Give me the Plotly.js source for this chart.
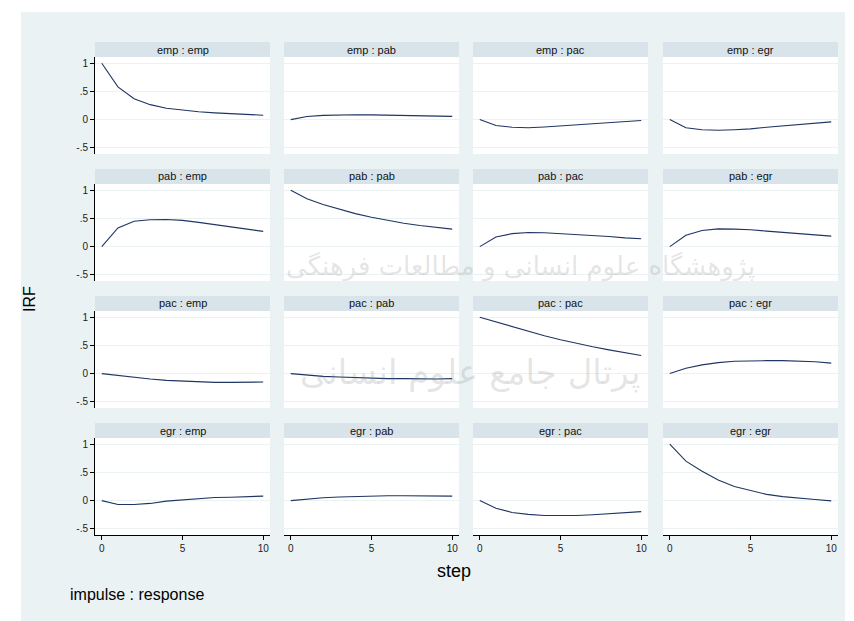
<!DOCTYPE html>
<html>
<head>
<meta charset="utf-8">
<script src="https://cdn.plot.ly/plotly-3.0.1.min.js"></script>
<style>html,body{margin:0;padding:0;background:#fff;}#chart{width:854px;height:621px;}</style>
</head>
<body>
<div id="chart"></div>
<script>
// ---- data ----
const steps = [0, 1, 2, 3, 4, 5, 6, 7, 8, 9, 10];
const impulses = ['emp', 'pab', 'pac', 'egr'];
const responses = ['emp', 'pab', 'pac', 'egr'];

const emp_emp = [1.00, 0.58, 0.37, 0.265, 0.20, 0.165, 0.14, 0.12, 0.105, 0.09, 0.077];
const emp_pab = [0.00, 0.055, 0.075, 0.083, 0.085, 0.083, 0.078, 0.073, 0.068, 0.062, 0.057];
const emp_pac = [0.00, -0.105, -0.135, -0.145, -0.13, -0.11, -0.095, -0.07, -0.055, -0.035, -0.015];
const emp_egr = [0.00, -0.145, -0.18, -0.19, -0.18, -0.165, -0.135, -0.11, -0.09, -0.065, -0.04];

const pab_emp = [0.00, 0.33, 0.45, 0.475, 0.48, 0.465, 0.43, 0.39, 0.35, 0.315, 0.27];
const pab_pab = [1.00, 0.85, 0.745, 0.66, 0.585, 0.52, 0.465, 0.415, 0.375, 0.34, 0.31];
const pab_pac = [0.00, 0.17, 0.23, 0.25, 0.245, 0.23, 0.215, 0.195, 0.18, 0.155, 0.14];
const pab_egr = [0.00, 0.20, 0.285, 0.315, 0.31, 0.30, 0.275, 0.25, 0.23, 0.21, 0.185];

const pac_emp = [0.00, -0.035, -0.065, -0.095, -0.12, -0.135, -0.15, -0.155, -0.155, -0.155, -0.15];
const pac_pab = [0.00, -0.03, -0.05, -0.06, -0.07, -0.085, -0.09, -0.09, -0.095, -0.095, -0.09];
const pac_pac = [1.00, 0.915, 0.83, 0.75, 0.67, 0.60, 0.535, 0.475, 0.42, 0.37, 0.32];
const pac_egr = [0.00, 0.095, 0.155, 0.195, 0.22, 0.23, 0.23, 0.23, 0.22, 0.21, 0.185];

const egr_emp = [0.00, -0.07, -0.07, -0.05, -0.01, 0.01, 0.035, 0.055, 0.06, 0.07, 0.08];
const egr_pab = [0.00, 0.03, 0.05, 0.065, 0.075, 0.08, 0.085, 0.085, 0.085, 0.085, 0.08];
const egr_pac = [0.00, -0.135, -0.21, -0.245, -0.265, -0.27, -0.265, -0.25, -0.23, -0.21, -0.195];
const egr_egr = [1.00, 0.70, 0.52, 0.365, 0.25, 0.175, 0.11, 0.07, 0.04, 0.02, -0.005];

const irf = [
  [emp_emp, emp_pab, emp_pac, emp_egr],
  [pab_emp, pab_pab, pab_pac, pab_egr],
  [pac_emp, pac_pab, pac_pac, pac_egr],
  [egr_emp, egr_pab, egr_pac, egr_egr]
];

const yTickVals = [-0.5, 0, 0.5, 1];
const yTickText = ['-.5', '0', '.5', '1'];
const xTickVals = [0, 5, 10];
const xTickText = ['0', '5', '10'];

// ---- layout geometry (pixels) ----
const W = 854, H = 621;
const px = x => x / W;
const py = y => 1 - y / H;
const colX = [95, 284, 473, 663];
const colW = 175;
const rowTop = [42, 169, 296, 423];
const stripH = 15;
const plotH = 97;

const font = 'Liberation Sans, Arial, Helvetica, sans-serif';
const lineColor = '#1f3563';
const bg = '#eaf2f3';
const stripColor = '#d9e4ea';

const traces = [];
const layout = {
  width: W, height: H,
  margin: {l: 0, r: 0, t: 0, b: 0},
  paper_bgcolor: bg,
  plot_bgcolor: '#ffffff',
  showlegend: false,
  font: {family: font, color: '#000'},
  shapes: [
    {type: 'rect', xref: 'paper', yref: 'paper', x0: 0, x1: 1, y0: py(12), y1: 1, fillcolor: '#ffffff', line: {width: 0}, layer: 'below'},
    {type: 'rect', xref: 'paper', yref: 'paper', x0: 0, x1: px(21), y0: 0, y1: 1, fillcolor: '#ffffff', line: {width: 0}, layer: 'below'},
    {type: 'rect', xref: 'paper', yref: 'paper', x0: px(845), x1: 1, y0: 0, y1: 1, fillcolor: '#ffffff', line: {width: 0}, layer: 'below'}
  ],
  annotations: []
};

for (let r = 0; r < 4; r++) {
  for (let c = 0; c < 4; c++) {
    const idx = r * 4 + c + 1;
    const sfx = idx === 1 ? '' : String(idx);
    traces.push({
      type: 'scatter', mode: 'lines',
      x: steps, y: irf[r][c],
      xaxis: 'x' + sfx, yaxis: 'y' + sfx,
      line: {color: lineColor, width: 1.1},
      hoverinfo: 'skip'
    });
    const top = rowTop[r] + stripH;
    const bottom = top + plotH;
    const isBottom = r === 3;
    const isLeft = c === 0;
    layout['xaxis' + sfx] = {
      domain: [px(colX[c]), px(colX[c] + colW)],
      anchor: 'y' + sfx,
      range: [-0.42, 10.42],
      showgrid: false, zeroline: false,
      showline: isBottom, linecolor: '#000', linewidth: 1,
      ticks: isBottom ? 'outside' : '', ticklen: 4, tickcolor: '#000', tickwidth: 1,
      showticklabels: isBottom,
      tickvals: xTickVals, ticktext: xTickText,
      tickfont: {family: font, size: 10, color: '#222'},
      fixedrange: true
    };
    layout['yaxis' + sfx] = {
      domain: [py(bottom), py(top)],
      anchor: 'x' + sfx,
      range: [-0.61, 1.11],
      showgrid: true, gridcolor: bg, gridwidth: 1.2,
      zeroline: false,
      showline: isLeft, linecolor: '#000', linewidth: 1,
      ticks: isLeft ? 'outside' : '', ticklen: 4, tickcolor: '#000', tickwidth: 1,
      showticklabels: isLeft,
      tickvals: yTickVals, ticktext: yTickText,
      tickfont: {family: font, size: 10, color: '#222'},
      fixedrange: true
    };
    // strip
    layout.shapes.push({
      type: 'rect', xref: 'paper', yref: 'paper',
      x0: px(colX[c]), x1: px(colX[c] + colW),
      y0: py(rowTop[r] + stripH), y1: py(rowTop[r]),
      fillcolor: stripColor, line: {width: 0}, layer: 'below'
    });
    layout.annotations.push({
      xref: 'paper', yref: 'paper',
      x: px(colX[c] + colW / 2), y: py(rowTop[r] + stripH / 2),
      xanchor: 'center', yanchor: 'middle',
      text: impulses[r] + ' : ' + responses[c],
      showarrow: false,
      font: {family: font, size: 11, color: '#111'}
    });
  }
}

// axis titles and note
layout.annotations.push(
  {xref: 'paper', yref: 'paper', x: px(30), y: py(299), xanchor: 'center', yanchor: 'middle',
   text: 'IRF', textangle: -90, showarrow: false, font: {family: font, size: 16, color: '#000'}},
  {xref: 'paper', yref: 'paper', x: px(454), y: py(571), xanchor: 'center', yanchor: 'middle',
   text: 'step', showarrow: false, font: {family: font, size: 18, color: '#000'}},
  {xref: 'paper', yref: 'paper', x: px(68), y: py(594), xanchor: 'left', yanchor: 'middle',
   text: 'impulse : response', showarrow: false, font: {family: font, size: 16, color: '#000'}},
  // faint watermark text present in the reference image
  {xref: 'paper', yref: 'paper', x: px(520), y: py(266), xanchor: 'center', yanchor: 'middle',
   text: 'پژوهشگاه علوم انسانی و مطالعات فرهنگی', showarrow: false,
   font: {family: 'DejaVu Sans, sans-serif', size: 26, color: 'rgba(120,120,120,0.2)'}},
  {xref: 'paper', yref: 'paper', x: px(470), y: py(372), xanchor: 'center', yanchor: 'middle',
   text: 'پرتال جامع علوم انسانی', showarrow: false,
   font: {family: 'DejaVu Sans, sans-serif', size: 34, color: 'rgba(120,120,120,0.2)'}}
);

Plotly.newPlot('chart', traces, layout, {displayModeBar: false, staticPlot: true});
</script>
</body>
</html>
